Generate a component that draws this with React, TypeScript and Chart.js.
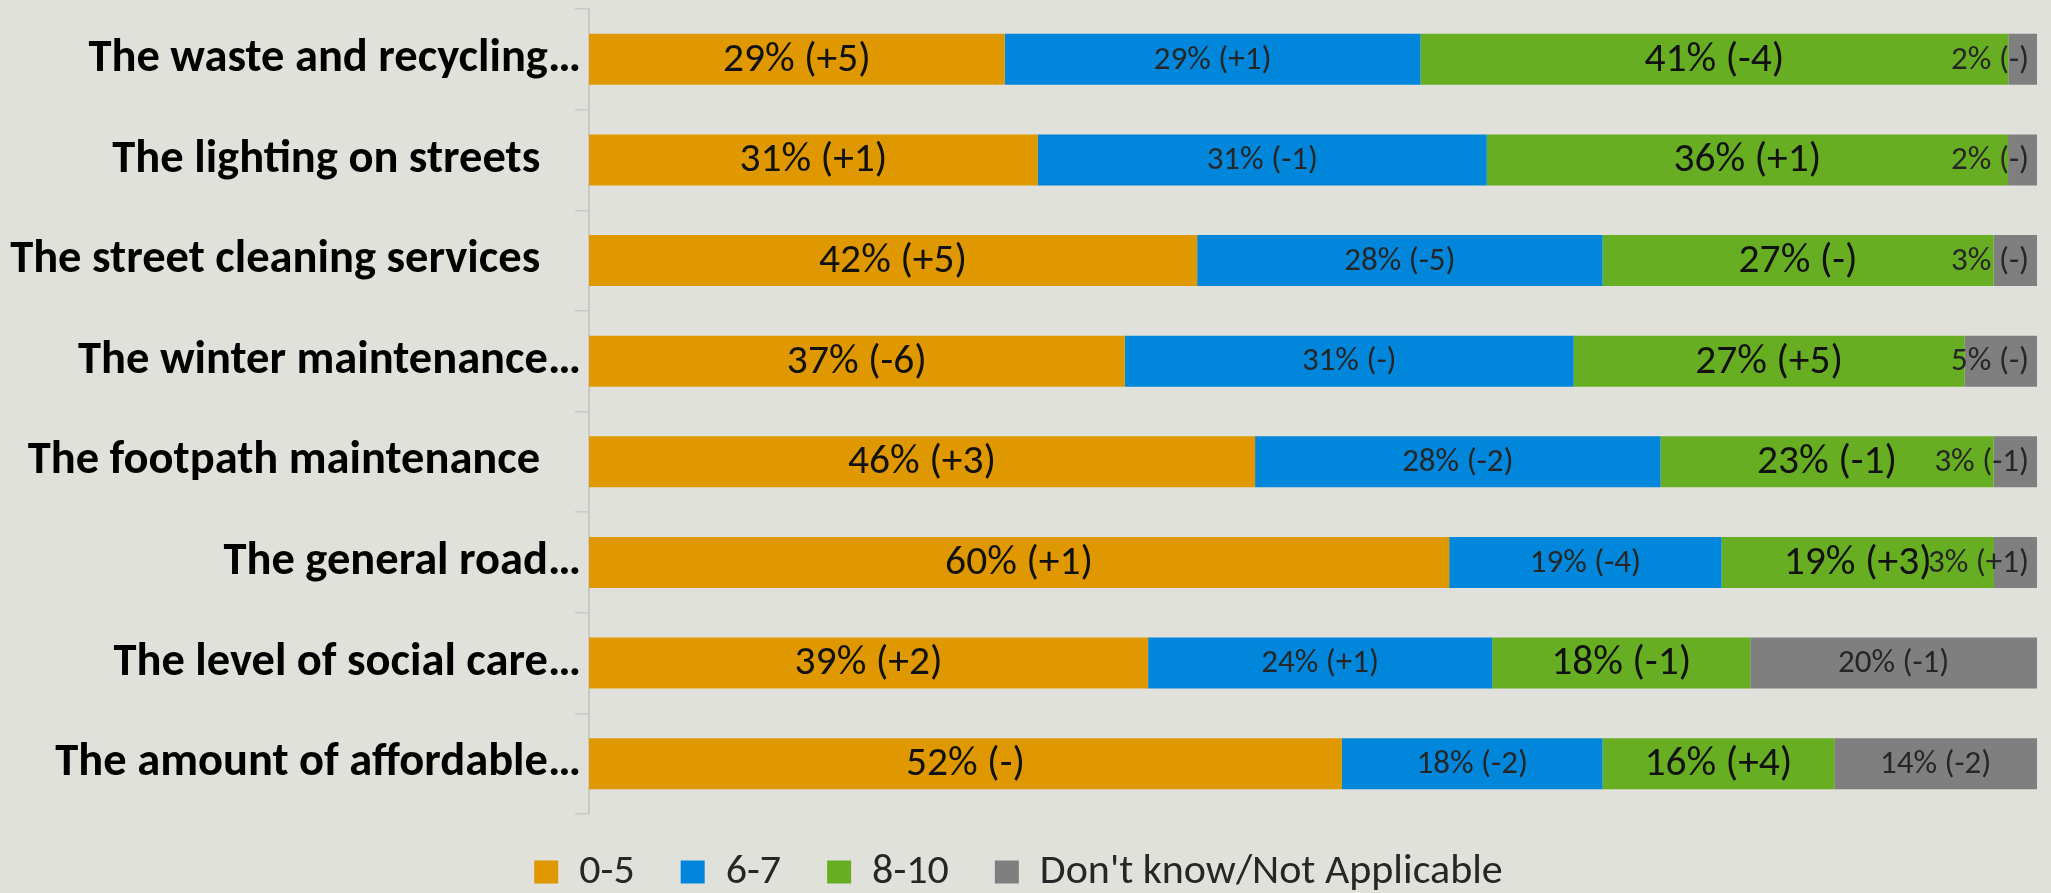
import React, { useEffect, useRef } from "react";
import { Chart, registerables } from "chart.js";

Chart.register(...registerables);

const categories = [
  "The waste and recycling…",
  "The lighting on streets   \u2009",
  "The street cleaning services   \u2009",
  "The winter maintenance…",
  "The footpath maintenance   \u2009",
  "The general road…",
  "The level of social care…",
  "The amount of affordable…",
];

const seriesNames = ["0-5", "6-7", "8-10", "Don't know/Not Applicable"];

const score0to5 = [29, 31, 42, 37, 46, 60, 39, 52];
const score6to7 = [29, 31, 28, 31, 28, 19, 24, 18];
const score8to10 = [41, 36, 27, 27, 23, 19, 18, 16];
const dontKnow = [2, 2, 3, 5, 3, 3, 20, 14];

const change0to5 = ["+5", "+1", "+5", "-6", "+3", "+1", "+2", "-"];
const change6to7 = ["+1", "-1", "-5", "-", "-2", "-4", "+1", "-2"];
const change8to10 = ["-4", "+1", "-", "+5", "-1", "+3", "-1", "+4"];
const changeDontKnow = ["-", "-", "-", "-", "-1", "+1", "-1", "-2"];

const colors = ["#E09800", "#0087DC", "#67AE23", "#7F7F7F"];
const BG = "#E0E1DA";
const FONT = "Carlito, Lato, sans-serif";

export default function App() {
  const ref = useRef<HTMLCanvasElement | null>(null);

  useEffect(() => {
    const canvas = ref.current;
    if (!canvas) return;
    const raw = [score0to5, score6to7, score8to10, dontKnow];
    const changes = [change0to5, change6to7, change8to10, changeDontKnow];
    const rowSums = categories.map((_, i) => raw.reduce((s, a) => s + a[i], 0));
    // 100% stacked: normalise each row like the source chart
    const datasets = raw.map((arr, di) => ({
      label: seriesNames[di],
      data: arr.map((v, i) => (v / rowSums[i]) * 100),
      backgroundColor: colors[di],
      borderWidth: 0,
      categoryPercentage: 1,
      barPercentage: 0.507,
    }));

    const LEGEND_FONT = 42;
    const LEGEND_PAD = 46;

    const bgPlugin = {
      id: "bg",
      beforeDraw(chart: any) {
        const { ctx, width, height } = chart;
        ctx.save();
        ctx.fillStyle = BG;
        ctx.fillRect(0, 0, width, height);
        ctx.restore();
      },
      afterLayout(chart: any) {
        const lg = chart.legend;
        if (!lg) return;
        const shift = 872 - (lg.top + LEGEND_PAD + LEGEND_FONT / 2);
        lg.top += shift;
        lg.bottom += shift;
      },
    };

    const labelPlugin = {
      id: "segLabels",
      afterDatasetsDraw(chart: any) {
        const { ctx, chartArea } = chart;
        ctx.save();
        ctx.textAlign = "center";
        ctx.textBaseline = "middle";
        chart.data.datasets.forEach((_: any, di: number) => {
          const meta = chart.getDatasetMeta(di);
          const big = di === 0 || di === 2;
          ctx.font = `${big ? 41.5 : 33}px ${FONT}`;
          ctx.fillStyle = big ? "#111111" : "#262626";
          meta.data.forEach((bar: any, i: number) => {
            const text = `${raw[di][i]}% (${changes[di][i]})`;
            const w = ctx.measureText(text).width;
            const p = bar.getProps(["x", "y", "base"], true);
            let cx = (p.x + p.base) / 2;
            if (cx + w / 2 > chartArea.right - 8) cx = chartArea.right - 8 - w / 2;
            ctx.fillText(text, cx, p.y + 1);
          });
        });
        ctx.restore();
      },
    };

    const chart = new Chart(canvas, {
      type: "bar",
      data: { labels: categories, datasets },
      options: {
        indexAxis: "y",
        responsive: false,
        animation: false,
        layout: { padding: { top: 9, right: 14, left: 0, bottom: 0 } },
        scales: {
          x: { stacked: true, min: 0, max: 100, display: false },
          y: {
            stacked: true,
            offset: true,
            grid: {
              offset: true,
              drawOnChartArea: false,
              drawTicks: true,
              tickLength: 14,
              color: "#C9C9C5",
              lineWidth: 1.5,
            },
            border: { display: true, color: "#C9C9C5", width: 2 },
            ticks: {
              padding: -6,
              color: "#000000",
              font: { family: FONT, size: 46.5, weight: "bold" },
            },
            afterFit(scale: any) {
              scale.width = 589;
              scale.paddingTop = 0;
              scale.paddingBottom = 0;
            },
          },
        },
        plugins: {
          legend: {
            position: "bottom",
            labels: {
              boxWidth: 24,
              boxHeight: 23,
              padding: LEGEND_PAD,
              color: "#262626",
              font: { family: FONT, size: LEGEND_FONT },
            },
          },
          tooltip: { enabled: false },
        },
      },
      plugins: [bgPlugin, labelPlugin],
    });
    return () => chart.destroy();
  }, []);

  return (
    <div
      style={{
        position: "fixed",
        left: 0,
        top: 0,
        width: 2051,
        height: 893,
        overflow: "hidden",
        background: BG,
      }}
    >
      <canvas ref={ref} width={2051} height={912} style={{ display: "block" }} />
    </div>
  );
}
